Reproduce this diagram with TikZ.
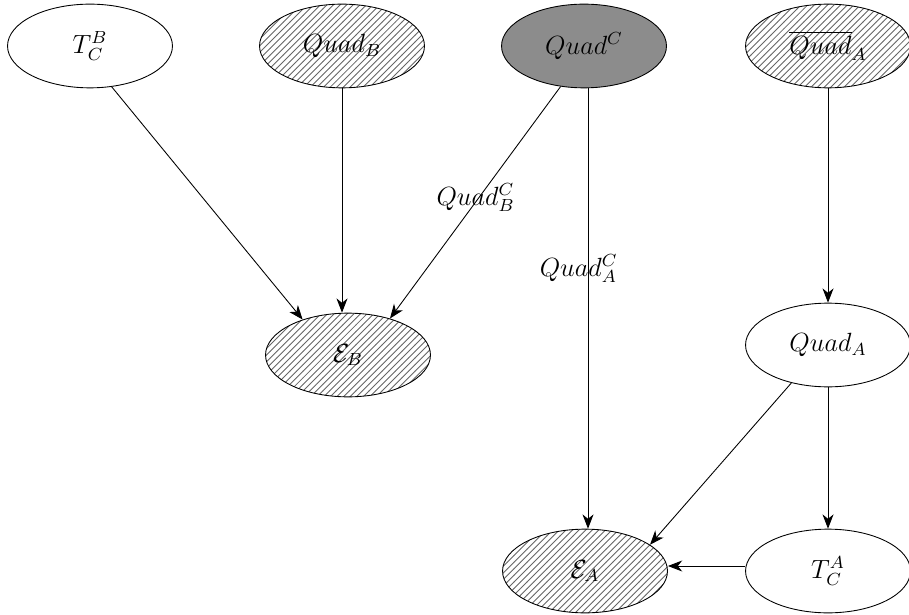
\documentclass[tikz,border=0pt]{standalone}
\usetikzlibrary{shapes.geometric,patterns,arrows.meta}
\begin{document}
\begin{tikzpicture}[x=0.016cm, y=-0.016cm, >={Stealth[length=6.5pt, width=5pt, inset=2pt]},
        var/.style={draw, ellipse, minimum width=2.64cm, minimum height=1.34cm, inner sep=0pt, font=\large},
        hatched/.style={var, pattern=north east lines, pattern color=black!60},
        observed/.style={var, fill=black!45},
        edgelabel/.style={inner sep=1pt, font=\large}]
        \useasboundingbox (0,0) rectangle (909,615);
        \node[var] (tcb) at (90,46) {$T_C^B$};
        \node[hatched] (quadb) at (342,46) {$Quad_B$};
        \node[observed] (quadc) at (584,46) {$Quad^C$};
        \node[hatched] (quadabar) at (828,46) {$\overline{Quad}_A$};
        \node[hatched] (eb) at (348,355) {$\mathcal{E}_B$};
        \node[var] (quada) at (828,345) {$Quad_A$};
        \node[hatched] (ea) at (585,571) {$\mathcal{E}_A$};
        \node[var] (tca) at (828,571) {$T_C^A$};
        \draw[->] (tcb.-62) -- (eb.142);
        \draw[->] (quadb.south) -- (quadb.south |- eb.north);
        \draw[->] (quadc.-120) -- node[edgelabel, pos=0.48, xshift=-0.05cm]{$Quad_B^C$} (eb.41);
        \draw[->] (quadc.south) ++(4,0) coordinate (qc) -- node[edgelabel, pos=0.41, xshift=-0.15cm]{$Quad_A^C$} (qc |- ea.north);
        \draw[->] (quadabar) -- (quada);
        \draw[->] (quada.-134) -- (ea.22);
        \draw[->] (quada) -- (tca);
        \draw[->] (tca.west) ++(0,-5) coordinate (ta) -- (ta -| ea.east);
    \end{tikzpicture}
\end{document}
